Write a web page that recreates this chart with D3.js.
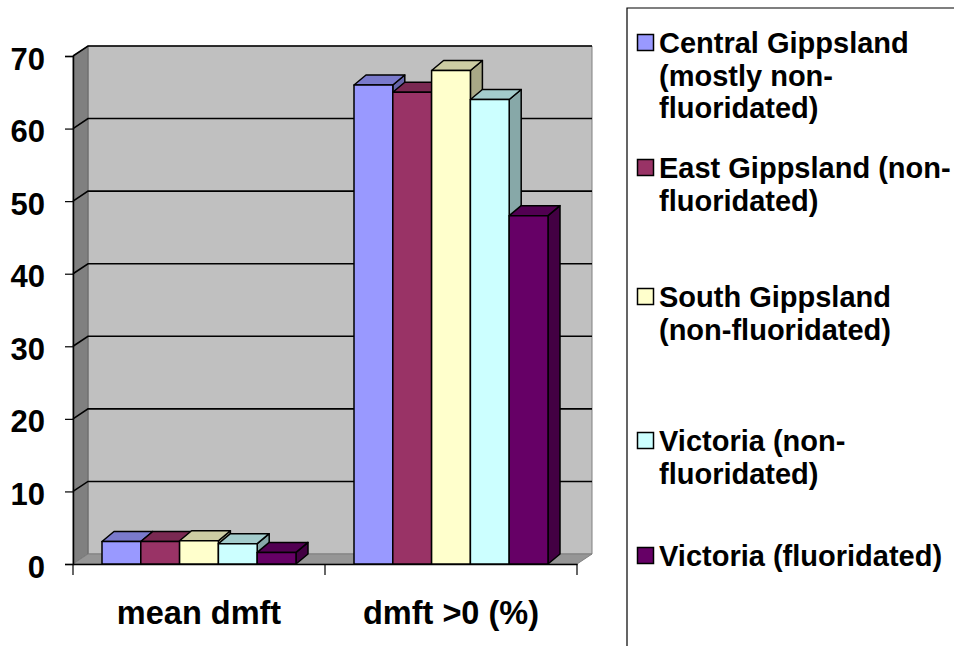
<!DOCTYPE html>
<html>
<head>
<meta charset="utf-8">
<script src="https://cdn.jsdelivr.net/npm/d3@7/dist/d3.min.js"></script>
<style>
  html, body { margin: 0; padding: 0; background: #ffffff; }
  svg { display: block; }
  text { font-family: "Liberation Sans", Arial, sans-serif; font-weight: bold; fill: #000; }
</style>
</head>
<body>
<svg id="chart" width="954" height="646"></svg>
<script>
// Categories on the x axis
const categories = ["mean dmft", "dmft >0 (%)"];

// Series (one per region)
const seriesNames = [
  "Central Gippsland (mostly non-fluoridated)",
  "East Gippsland (non-fluoridated)",
  "South Gippsland (non-fluoridated)",
  "Victoria (non-fluoridated)",
  "Victoria (fluoridated)"
];

// Legend text, wrapped the way the legend box shows it
const legendLines = [
  ["Central Gippsland", "(mostly non-", "fluoridated)"],
  ["East Gippsland (non-", "fluoridated)"],
  ["South Gippsland", "(non-fluoridated)"],
  ["Victoria (non-", "fluoridated)"],
  ["Victoria (fluoridated)"]
];

// Values per series, in category order
const centralGippsland = [3.1, 66];
const eastGippsland    = [3.1, 65];
const southGippsland   = [3.2, 68];
const victoriaNonFluor = [2.8, 64];
const victoriaFluor    = [1.6, 48];

const seriesValues = [centralGippsland, eastGippsland, southGippsland, victoriaNonFluor, victoriaFluor];

const seriesColors = ["#9999ff", "#993366", "#ffffcc", "#ccffff", "#660066"];

const yTicks = [0, 10, 20, 30, 40, 50, 60, 70];

// ---- layout ----
const svg = d3.select("#chart");
const x0 = 73, x1 = 577;         // front edge of the floor
const yBase = 564, yTop = 56;    // front baseline and top of value axis
const wallDx = 15, wallDy = -10; // depth of the walls
const barDx = 12, barDy = -10;   // depth of each column
const fontStack = "'Liberation Sans', Arial, sans-serif";

const y = d3.scaleLinear().domain([0, 70]).range([yBase, yTop]);
const xCat = d3.scaleBand().domain(categories).range([x0, x1]).padding(0);
const xSer = d3.scaleBand().domain(d3.range(seriesNames.length))
  .range([29, xCat.bandwidth() - 29]).padding(0);

const shade = (c, k) => {
  const r = d3.rgb(c);
  return d3.rgb(r.r * k, r.g * k, r.b * k).formatHex();
};
const poly = pts => "M" + pts.map(p => p.join(",")).join("L") + "Z";

// Back wall
svg.append("path")
  .attr("d", poly([[x0 + wallDx, yTop + wallDy], [x1 + wallDx, yTop + wallDy],
                   [x1 + wallDx, yBase + wallDy], [x0 + wallDx, yBase + wallDy]]))
  .attr("fill", "#c0c0c0").attr("stroke", "#808080").attr("stroke-width", 1);

// Side wall
svg.append("path")
  .attr("d", poly([[x0, yTop], [x0 + wallDx, yTop + wallDy],
                   [x0 + wallDx, yBase + wallDy], [x0, yBase]]))
  .attr("fill", "#808080").attr("stroke", "#666666").attr("stroke-width", 1);

// Floor
svg.append("path")
  .attr("d", poly([[x0, yBase], [x0 + wallDx, yBase + wallDy],
                   [x1 + wallDx, yBase + wallDy], [x1, yBase]]))
  .attr("fill", "#969696").attr("stroke", "#808080").attr("stroke-width", 1);

// Gridlines across the side wall and back wall
const grid = svg.append("g");
yTicks.filter(t => t > 0).forEach(t => {
  const yy = y(t);
  grid.append("path")
    .attr("d", `M${x0},${yy}L${x0 + wallDx},${yy + wallDy}L${x1 + wallDx},${yy + wallDy}`)
    .attr("fill", "none").attr("stroke", "#000").attr("stroke-width", 1.6);
});

// Value axis
const yAxis = d3.axisLeft(y).tickValues(yTicks).tickSize(8).tickPadding(0);
const yg = svg.append("g").attr("transform", `translate(${x0},0)`).call(yAxis);
yg.select(".domain").attr("stroke", "#000").attr("stroke-width", 1.5);
yg.selectAll(".tick line").attr("stroke", "#000").attr("stroke-width", 1.2);
yg.selectAll(".tick text")
  .attr("x", -28).attr("dy", null).attr("y", 13)
  .attr("text-anchor", "end")
  .style("font-size", "31px").style("font-family", fontStack)
  .style("font-weight", "bold").attr("fill", "#000");

// Category axis
const xAxis = d3.axisBottom(xCat).tickSize(0).tickPadding(0);
const xg = svg.append("g").attr("transform", `translate(0,${yBase})`).call(xAxis);
xg.select(".domain").attr("stroke", "#000").attr("stroke-width", 1.5);
xg.selectAll(".tick text")
  .attr("y", 60).attr("dy", null)
  .style("font-size", "32.5px").style("font-family", fontStack)
  .style("font-weight", "bold").attr("fill", "#000");
// Dividers between categories
[x0, x0 + xCat.bandwidth(), x1].forEach(xx => {
  xg.append("line").attr("x1", xx).attr("x2", xx).attr("y1", 0).attr("y2", 11)
    .attr("stroke", "#000").attr("stroke-width", 1.2);
});

// Columns: side face, top face, then front face
const bars = svg.append("g");
categories.forEach((cat, ci) => {
  seriesValues.forEach((vals, si) => {
    const v = vals[ci];
    const left = xCat(cat) + xSer(si);
    const right = left + xSer.bandwidth();
    const top = y(v);
    const col = seriesColors[si];
    const g = bars.append("g").attr("stroke", "#000").attr("stroke-width", 1.5)
      .attr("stroke-linejoin", "round");
    g.append("path")
      .attr("d", poly([[right, top], [right + barDx, top + barDy],
                       [right + barDx, yBase + barDy], [right, yBase]]))
      .attr("fill", shade(col, 0.66));
    g.append("path")
      .attr("d", poly([[left, top], [left + barDx, top + barDy],
                       [right + barDx, top + barDy], [right, top]]))
      .attr("fill", shade(col, 0.8));
    g.append("rect")
      .attr("x", left).attr("y", top)
      .attr("width", right - left).attr("height", yBase - top)
      .attr("fill", col);
  });
});

// Legend
const legend = svg.append("g");
legend.append("path")
  .attr("d", "M958,8L627,8L627,650")
  .attr("fill", "none").attr("stroke", "#000").attr("stroke-width", 1.2);

const legendFirstBaseline = [53, 178, 307, 451, 566];
const lineStep = 32.5;
legendLines.forEach((lines, i) => {
  const b = legendFirstBaseline[i];
  legend.append("rect")
    .attr("x", 637.5).attr("y", b - 18.5).attr("width", 16).attr("height", 16)
    .attr("fill", seriesColors[i]).attr("stroke", "#000").attr("stroke-width", 1.5);
  const t = legend.append("text").attr("x", 659).attr("y", b)
    .style("font-size", "29px");
  lines.forEach((ln, k) => {
    t.append("tspan").attr("x", 659).attr("y", b + k * lineStep).text(ln);
  });
});
</script>
</body>
</html>
